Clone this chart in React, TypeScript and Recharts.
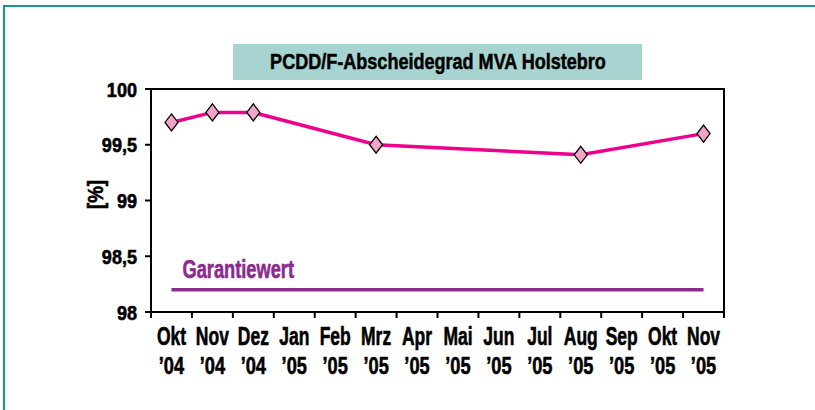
import { LineChart, Line, XAxis, YAxis, ReferenceArea } from "recharts"

const months = [
  "Okt '04", "Nov '04", "Dez '04", "Jan '05", "Feb '05", "Mrz '05", "Apr '05",
  "Mai '05", "Jun '05", "Jul '05", "Aug '05", "Sep '05", "Okt '05", "Nov '05",
]
const abscheidegrad: (number | null)[] = [
  99.7, 99.79, 99.79, null, null, 99.5, null, null, null, null, 99.41, null, null, 99.6,
]
const garantiewert = 98.2
const yTicks = [98, 98.5, 99, 99.5, 100]

const FONT = "'Liberation Sans', Arial, Helvetica, sans-serif"
const TEAL = "#139a88"
const MAGENTA = "#ec008c"
const PURPLE = "#8d2a8e"

const data = months.map((m, i) => ({
  month: m,
  wert: abscheidegrad[i],
  garantie: garantiewert,
}))

const TICK_SIZE = 6

// condensed look: Arial bold squeezed horizontally, slightly thickened
const NarrowText = ({ x, y, sx, anchor = "start", size = 24, fill = "#000", rotate = 0, children }: any) => (
  <g transform={`translate(${x},${y}) rotate(${rotate}) scale(${sx},1)`}>
    <text
      x={0}
      y={0}
      textAnchor={anchor}
      fontFamily={FONT}
      fontWeight="bold"
      fontSize={size}
      fill={fill}
      stroke={fill}
      strokeWidth={0.6}
    >
      {children}
    </text>
  </g>
)

const MonthTick = (props: any) => {
  const { x, y, payload, index } = props
  const axisY = y - TICK_SIZE
  const half = payload.offset ?? 0
  const [m, yr] = String(payload.value).split(" ")
  return (
    <g>
      <line x1={x - half} x2={x - half} y1={axisY} y2={axisY + TICK_SIZE} stroke="#000" strokeWidth={2} />
      {index === months.length - 1 && (
        <line x1={x + half} x2={x + half} y1={axisY} y2={axisY + TICK_SIZE} stroke="#000" strokeWidth={2} />
      )}
      <NarrowText x={x} y={axisY + 33} sx={0.7} size={25} anchor="middle">{m}</NarrowText>
      <NarrowText x={x} y={axisY + 62} sx={0.76} size={24} anchor="middle">{yr.replace("'", "\u2019")}</NarrowText>
    </g>
  )
}

const ValueTick = (props: any) => {
  const { x, y, payload } = props
  return (
    <NarrowText x={x} y={y + 7.5} sx={0.86} size={21} anchor="end">
      {String(payload.value).replace(".", ",")}
    </NarrowText>
  )
}

const UnitLabel = (props: any) => {
  const { viewBox } = props
  const cx = viewBox.x + 103
  const cy = viewBox.y + viewBox.height / 2 - 6
  return (
    <NarrowText x={cx} y={cy} sx={0.85} size={22} anchor="middle" rotate={-90}>
      [%]
    </NarrowText>
  )
}

const Diamond = (props: any) => {
  const { cx, cy, value } = props
  if (value == null || cx == null || cy == null) return null
  return (
    <path
      d={`M${cx},${cy - 8.5} L${cx + 6.5},${cy} L${cx},${cy + 8.5} L${cx - 6.5},${cy} Z`}
      fill="#f4a3c8"
      stroke="#000"
      strokeWidth={1.3}
    />
  )
}

const GarantieLabel = (props: any) => {
  const { x, y, index } = props
  if (index !== 0) return null
  return (
    <NarrowText x={x + 11} y={y - 12} sx={0.73} size={25} fill={PURPLE}>
      Garantiewert
    </NarrowText>
  )
}

export default function App() {
  return (
    <div style={{ position: "absolute", left: 0, top: 0, width: 815, height: 410, background: "#fff", overflow: "hidden" }}>
      <div
        style={{
          position: "absolute",
          left: 3,
          top: 5,
          right: 0,
          bottom: 0,
          borderLeft: `2px solid ${TEAL}`,
          borderTop: `2px solid ${TEAL}`,
        }}
      />
      <LineChart
        width={815}
        height={410}
        data={data}
        margin={{ top: 89, right: 91, left: 0, bottom: 8 }}
        style={{ position: "absolute", left: 0, top: 0 }}
      >
        <XAxis
          dataKey="month"
          scale="band"
          interval={0}
          height={90}
          tickSize={TICK_SIZE}
          tickMargin={0}
          tickLine={false}
          axisLine={{ stroke: "#000", strokeWidth: 2 }}
          tick={<MonthTick />}
        />
        <YAxis
          domain={[98, 100]}
          ticks={yTicks}
          width={151}
          tickSize={6}
          tickMargin={8}
          axisLine={{ stroke: "#000", strokeWidth: 2 }}
          tickLine={{ stroke: "#000", strokeWidth: 2 }}
          tick={<ValueTick />}
          label={<UnitLabel />}
        />
        <ReferenceArea
          x1={months[0]}
          x2={months[months.length - 1]}
          y1={98}
          y2={100}
          fill="none"
          stroke="#000"
          strokeWidth={2}
          ifOverflow="visible"
        />
        <Line
          dataKey="garantie"
          stroke={PURPLE}
          strokeWidth={3.5}
          dot={false}
          activeDot={false}
          label={<GarantieLabel />}
          isAnimationActive={false}
        />
        <Line
          dataKey="wert"
          stroke={MAGENTA}
          strokeWidth={3.5}
          connectNulls
          dot={<Diamond />}
          activeDot={false}
          isAnimationActive={false}
        />
      </LineChart>
      <div
        style={{
          position: "absolute",
          left: 233,
          top: 44,
          width: 409,
          height: 36,
          background: "#a7d4d1",
          overflow: "hidden",
        }}
      >
        <div
          style={{
            position: "absolute",
            left: "50%",
            top: 0,
            whiteSpace: "nowrap",
            lineHeight: "36px",
            fontFamily: FONT,
            fontWeight: "bold",
            fontSize: 22,
            color: "#000",
            WebkitTextStroke: "0.5px #000",
            transform: "translateX(-50%) scaleX(0.82)",
          }}
        >
          PCDD/F-Abscheidegrad MVA Holstebro
        </div>
      </div>
    </div>
  )
}
